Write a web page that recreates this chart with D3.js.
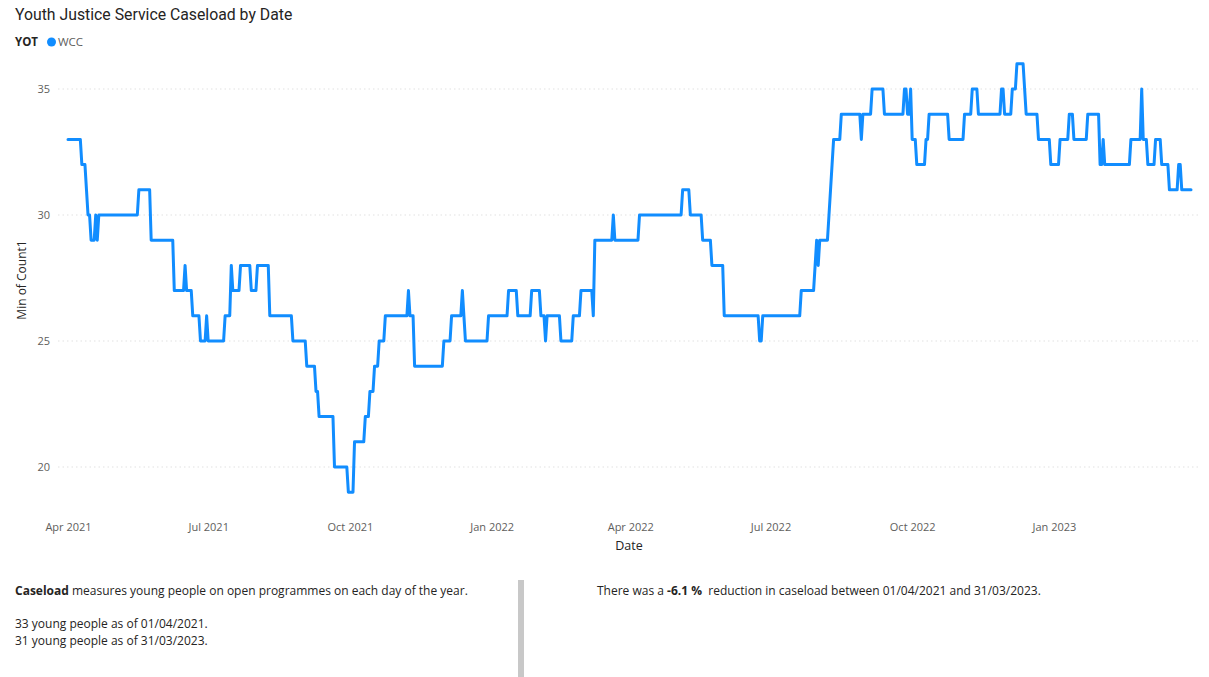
<!DOCTYPE html>
<html>
<head>
<meta charset="utf-8">
<script src="https://cdn.jsdelivr.net/npm/d3@7"></script>
<style>
  html, body { margin: 0; padding: 0; background: #ffffff; }
  svg { display: block; }
  text { white-space: pre; }
</style>
</head>
<body>
<svg id="chart" width="1209" height="677"></svg>
<script>
// Caseload runs: each date starts a run at the given count, held until the next run.
const runStarts = [
  "2021-04-01","2021-04-10","2021-04-13","2021-04-14","2021-04-16","2021-04-19","2021-04-20","2021-04-21",
  "2021-05-17","2021-05-25","2021-06-09","2021-06-16","2021-06-17","2021-06-21","2021-06-26","2021-06-30",
  "2021-07-01","2021-07-12","2021-07-16","2021-07-17","2021-07-22","2021-07-29","2021-08-02","2021-08-10",
  "2021-08-25","2021-09-03","2021-09-09","2021-09-11","2021-09-21","2021-09-30","2021-10-04","2021-10-11",
  "2021-10-14","2021-10-17","2021-10-20","2021-10-24","2021-11-08","2021-11-09","2021-11-12","2021-12-01",
  "2021-12-06","2021-12-13","2021-12-14","2021-12-15","2021-12-30","2022-01-12","2022-01-18","2022-01-27",
  "2022-02-02","2022-02-05","2022-02-06","2022-02-15","2022-02-23","2022-02-28","2022-03-08","2022-03-09",
  "2022-03-21","2022-03-22","2022-04-07","2022-05-05","2022-05-10","2022-05-18","2022-05-24","2022-06-01",
  "2022-06-24","2022-06-26","2022-07-21","2022-07-30","2022-07-31","2022-08-01","2022-08-02","2022-08-08",
  "2022-08-09","2022-08-10","2022-08-11","2022-08-16","2022-08-29","2022-08-30","2022-09-05","2022-09-13",
  "2022-09-26","2022-09-28","2022-09-30","2022-10-01","2022-10-04","2022-10-10","2022-10-12","2022-10-25",
  "2022-11-04","2022-11-09","2022-11-13","2022-11-28","2022-11-30","2022-12-05","2022-12-08","2022-12-13",
  "2022-12-14","2022-12-22","2022-12-30","2023-01-05","2023-01-11","2023-01-14","2023-01-23","2023-01-31",
  "2023-02-02","2023-02-03","2023-02-20","2023-02-27","2023-02-28","2023-03-03","2023-03-08","2023-03-12",
  "2023-03-17","2023-03-23","2023-03-25"
];
const runValues = [
  33,32,31,30,29,30,29,30,
  31,29,27,28,27,26,25,26,
  25,26,28,27,28,27,28,26,
  25,24,23,22,20,19,21,22,
  23,24,25,26,27,26,24,25,
  26,27,26,25,26,27,26,27,
  26,25,26,25,26,27,26,29,
  30,29,30,31,30,29,28,26,
  25,26,27,28,29,28,29,30,
  31,32,33,34,33,34,35,34,
  35,34,35,33,32,33,34,33,
  34,35,34,35,34,35,36,35,
  34,33,32,33,34,33,34,32,
  33,32,33,35,33,32,33,32,
  31,32,31
];
const periodStart = "2021-04-01";
const periodEnd = "2023-03-31";
const yTicks = [20, 25, 30, 35];
const xTickDates = ["2021-04-01","2021-07-01","2021-10-01","2022-01-01","2022-04-01","2022-07-01","2022-10-01","2023-01-01"];

const parse = d3.utcParse("%Y-%m-%d");
const runs = runStarts.map((d, i) => ({ start: parse(d), value: runValues[i] }));

// One point per day, each taking the count of the run it falls in.
const days = d3.utcDay.range(parse(periodStart), d3.utcDay.offset(parse(periodEnd), 1));
const findRun = d3.bisector(r => r.start).right;
const daily = days.map(day => ({ date: day, value: runs[findRun(runs, day) - 1].value }));

const svg = d3.select("#chart");
const FONT = "'Open Sans', 'Noto Sans', sans-serif";

const x = d3.scaleUtc()
  .domain([parse(periodStart), parse(periodEnd)])
  .range([68, 1191]);
const y = d3.scaleLinear()
  .domain([20, 35])
  .range([467, 89]);

// Title
svg.append("text")
  .attr("x", 15).attr("y", 20)
  .attr("font-family", "Roboto, 'Noto Sans', sans-serif")
  .attr("font-size", 15.8)
  .attr("fill", "#252423")
  .text("Youth Justice Service Caseload by Date");

// Legend
const legend = svg.append("g").attr("font-family", FONT).attr("font-size", 11.5);
legend.append("text").attr("x", 15).attr("y", 46)
  .attr("font-weight", "bold").attr("fill", "#252423").text("YOT");
legend.append("circle").attr("cx", 51.5).attr("cy", 42).attr("r", 4.5).attr("fill", "#118DFF");
legend.append("text").attr("x", 58).attr("y", 46).attr("fill", "#605E5C").text("WCC");

// Gridlines
svg.append("g")
  .selectAll("line")
  .data(yTicks)
  .join("line")
  .attr("x1", 58).attr("x2", 1200)
  .attr("y1", d => y(d)).attr("y2", d => y(d))
  .attr("stroke", "#E1E1E1")
  .attr("stroke-width", 1)
  .attr("stroke-dasharray", "1.5,3");

// Y axis
const yAxis = svg.append("g")
  .attr("transform", "translate(50,0)")
  .call(d3.axisLeft(y).tickValues(yTicks).tickSize(0).tickPadding(0));
yAxis.select(".domain").remove();
yAxis.selectAll("text")
  .attr("font-family", FONT).attr("font-size", 11).attr("fill", "#605E5C")
  .attr("dy", "0.32em");

svg.append("text")
  .attr("transform", "translate(26,280) rotate(-90)")
  .attr("text-anchor", "middle")
  .attr("font-family", FONT).attr("font-size", 12).attr("fill", "#252423")
  .text("Min of Count1");

// X axis
const xAxis = svg.append("g")
  .attr("transform", "translate(0,523)")
  .call(d3.axisBottom(x)
    .tickValues(xTickDates.map(parse))
    .tickFormat(d3.utcFormat("%b %Y"))
    .tickSize(0).tickPadding(0));
xAxis.select(".domain").remove();
xAxis.selectAll("text")
  .attr("font-family", FONT).attr("font-size", 11).attr("fill", "#605E5C")
  .attr("dy", "0.71em");

svg.append("text")
  .attr("x", 629).attr("y", 550)
  .attr("text-anchor", "middle")
  .attr("font-family", FONT).attr("font-size", 12.5).attr("fill", "#252423")
  .text("Date");

// Caseload line
const line = d3.line()
  .x(d => x(d.date))
  .y(d => y(d.value));
svg.append("path")
  .datum(daily)
  .attr("d", line)
  .attr("fill", "none")
  .attr("stroke", "#118DFF")
  .attr("stroke-width", 3)
  .attr("stroke-linejoin", "round")
  .attr("stroke-linecap", "round");

// Summary panel
const first = daily[0];
const last = daily[daily.length - 1];
const fmtDate = d3.utcFormat("%d/%m/%Y");
const pct = (last.value - first.value) / first.value * 100;

const note = svg.append("g").attr("font-family", FONT).attr("font-size", 12).attr("fill", "#252423");
const n1 = note.append("text").attr("x", 15).attr("y", 595);
n1.append("tspan").attr("font-weight", "bold").text("Caseload");
n1.append("tspan").text(" measures young people on open programmes on each day of the year.");
note.append("text").attr("x", 15).attr("y", 628)
  .text(`${first.value} young people as of ${fmtDate(first.date)}.`);
note.append("text").attr("x", 15).attr("y", 645)
  .text(`${last.value} young people as of ${fmtDate(last.date)}.`);

svg.append("rect")
  .attr("x", 518).attr("y", 580).attr("width", 6).attr("height", 97)
  .attr("fill", "#C8C8C8");

const n2 = note.append("text").attr("x", 597).attr("y", 595);
n2.append("tspan").text("There was a ");
n2.append("tspan").attr("font-weight", "bold").text(`${pct.toFixed(1)} %`);
n2.append("tspan").text(`  reduction in caseload between ${fmtDate(first.date)} and ${fmtDate(last.date)}.`);
</script>
</body>
</html>
